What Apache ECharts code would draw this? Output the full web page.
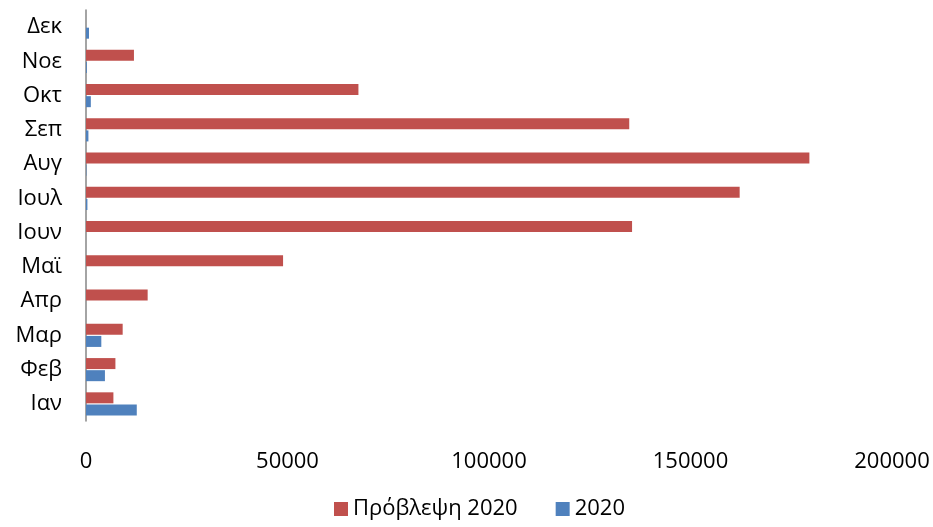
<!DOCTYPE html>
<html>
<head>
<meta charset="utf-8">
<script src="https://cdn.jsdelivr.net/npm/echarts@6/dist/echarts.min.js"></script>
<style>
html,body{margin:0;padding:0;background:#fff;}
#c{width:933px;height:527px;}
</style>
</head>
<body>
<div id="c"></div>
<script>
const categories = ['Ιαν','Φεβ','Μαρ','Απρ','Μαϊ','Ιουν','Ιουλ','Αυγ','Σεπ','Οκτ','Νοε','Δεκ'];
const forecast2020 = [6800, 7300, 9100, 15300, 48900, 135500, 162200, 179500, 134800, 67600, 11900, 0];
const actual2020 = [12600, 4700, 3800, 0, 0, 0, 350, 100, 600, 1200, 200, 750];
const seriesNames = ['Πρόβλεψη 2020', '2020'];

const FONT = '"Open Sans", "Noto Sans", sans-serif';
const chart = echarts.init(document.getElementById('c'), null, {renderer:'canvas'});
chart.setOption({
  animation: false,
  grid: {left: 86, right: 41, top: 10, bottom: 106, containLabel: false},
  legend: {
    data: seriesNames,
    top: 498,
    left: 334,
    padding: 0,
    itemWidth: 14, itemHeight: 14, itemGap: 38,
    icon: 'rect',
    textStyle: {fontFamily: FONT, fontSize: 22, color: '#000'}
  },
  xAxis: {
    type: 'value', min: 0, max: 200000, interval: 50000,
    axisLine: {show: false}, axisTick: {show: false}, splitLine: {show: false},
    axisLabel: {fontFamily: FONT, fontSize: 22, color: '#000', margin: 30,
      formatter: function (v) { return String(v); }}
  },
  yAxis: {
    type: 'category', data: categories,
    axisLine: {show: true, lineStyle: {color: '#868686', width: 1.5}},
    axisTick: {show: false},
    axisLabel: {fontFamily: FONT, fontSize: 22, color: '#000', margin: 24}
  },
  series: [
    {name: seriesNames[0], type: 'bar', data: forecast2020, barWidth: 11, barGap: '10%',
     itemStyle: {color: '#C0504D'}},
    {name: seriesNames[1], type: 'bar', data: actual2020, barWidth: 11, barGap: '10%',
     itemStyle: {color: '#4F81BD'}}
  ]
});
</script>
</body>
</html>
